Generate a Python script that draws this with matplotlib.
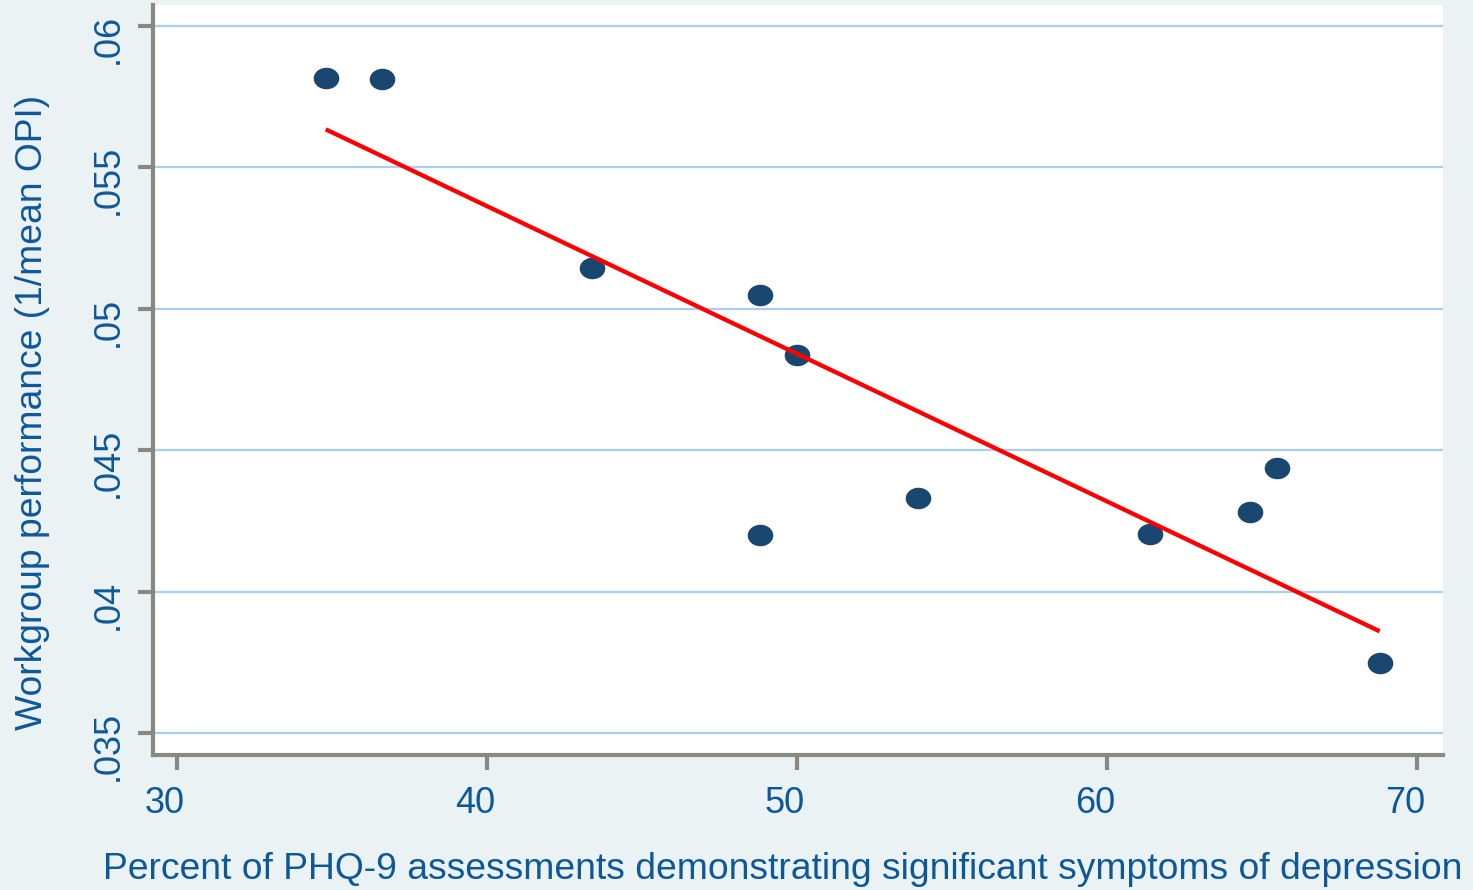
"""Scatter of workgroup performance vs share of PHQ-9 assessments showing depression,
with a linear fit line."""
import matplotlib
matplotlib.use('Agg')
import matplotlib.pyplot as plt
import numpy as np
from matplotlib.path import Path
from matplotlib.transforms import Affine2D, ScaledTranslation

# data
pct_depressed = [34.8, 36.6, 43.4, 48.8, 50.0, 48.8, 53.9, 61.4, 64.6, 65.5, 68.8]
performance = [0.05816, 0.05813, 0.05144, 0.05049, 0.04837, 0.04200,
               0.04331, 0.04204, 0.04281, 0.04437, 0.03748]

x_ticks = [30, 40, 50, 60, 70]
y_ticks = [0.035, 0.04, 0.045, 0.05, 0.055, 0.06]
y_tick_labels = ['.035', '.04', '.045', '.05', '.055', '.06']

BG = '#eaf2f3'
TEXT = '#0e5799'
AXIS = '#8a8882'
GRID = '#a8cff0'
MARKER = '#1a476f'

plt.rcParams['font.family'] = ['Liberation Sans', 'DejaVu Sans']


def main():
	fig = plt.figure(figsize=(14.73, 8.9), dpi=100, facecolor=BG)
	ax = fig.add_axes([0.1039, 0.1517, 0.9796 - 0.1039, 0.9944 - 0.1517])
	ax.set_facecolor('white')

	# slightly flattened ellipse marker, like the Stata dots
	ell = Path.unit_circle().transformed(Affine2D().scale(1.0, 0.84))
	ax.scatter(pct_depressed, performance, marker=ell, s=340, color=MARKER,
	           linewidths=0, zorder=3)

	# linear fit over the data range
	xs = np.array(pct_depressed)
	b, a = np.polyfit(xs, performance, 1)
	xl = np.array([xs.min(), xs.max()])
	ax.plot(xl, a + b * xl, color='red', linewidth=3.1, zorder=4,
	        solid_capstyle='butt')

	ax.set_xlim(29.23, 70.84)
	ax.set_ylim(0.03422, 0.06074)
	ax.set_xticks(x_ticks)
	ax.set_yticks(y_ticks)
	ax.set_yticklabels(y_tick_labels, rotation=90, va='center')

	ax.grid(True, axis='y', color=GRID, linewidth=1.6)
	ax.set_axisbelow(True)
	for s in ('top', 'right'):
		ax.spines[s].set_visible(False)
	for s in ('left', 'bottom'):
		ax.spines[s].set_color(AXIS)
		ax.spines[s].set_linewidth(3.0)
	ax.tick_params(axis='both', colors=AXIS, width=3.0, length=11,
	               labelcolor=TEXT, labelsize=26)
	ax.tick_params(axis='y', pad=9)
	ax.tick_params(axis='x', pad=11)

	# Stata draws the tick labels a little off-centre
	dx = ScaledTranslation(-0.12, 0, fig.dpi_scale_trans)
	dy = ScaledTranslation(0, -0.13, fig.dpi_scale_trans)
	for lab in ax.get_xticklabels():
		lab.set_transform(lab.get_transform() + dx)
	for lab in ax.get_yticklabels():
		lab.set_transform(lab.get_transform() + dy)

	ax.set_xlabel('Percent of PHQ-9 assessments demonstrating significant symptoms of depression',
	              fontsize=26.8, color=TEXT)
	ax.set_ylabel('Workgroup performance (1/mean OPI)', fontsize=26.8, color=TEXT)
	ax.xaxis.set_label_coords(0.488, -0.129)
	ax.yaxis.set_label_coords(-0.080, 0.456)

	fig.savefig('out.png', dpi=100, facecolor=BG)


if __name__ == '__main__':
	main()
